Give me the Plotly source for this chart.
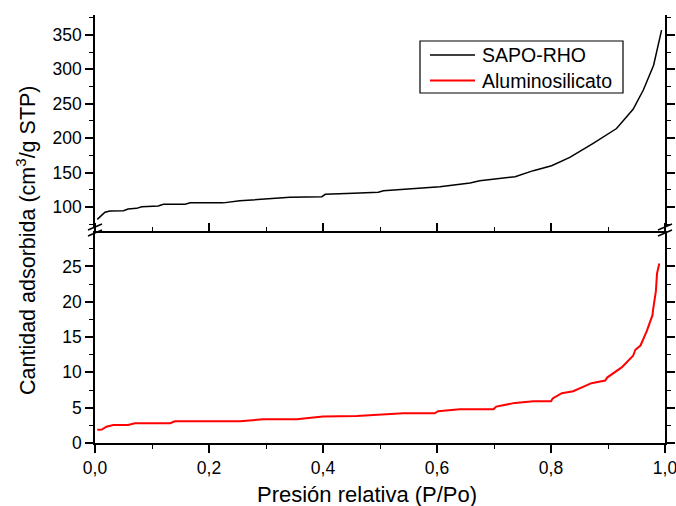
import plotly.graph_objects as go

# Relative pressure (P/Po) and adsorbed amount (cm3/g STP) for each material
sapo_p = [0.004, 0.0175, 0.026, 0.05, 0.058, 0.073, 0.082, 0.111, 0.12, 0.158, 0.167,
          0.225, 0.254, 0.325, 0.342, 0.398, 0.404, 0.453, 0.497, 0.506, 0.605, 0.658,
          0.675, 0.737, 0.769, 0.801, 0.833, 0.874, 0.915, 0.944, 0.962, 0.98, 0.988, 0.994]
sapo_q = [82, 92.3, 94.2, 94.6, 97, 98, 100.4, 101.4, 103.9, 104, 106,
          106, 109, 112.6, 114, 115, 118.4, 120, 121.4, 123.7, 129.5, 135,
          138, 144, 152.8, 160, 172, 192.5, 214, 242, 270, 306, 335, 357]

alum_p = [0.004, 0.012, 0.02, 0.032, 0.058, 0.07, 0.132, 0.14, 0.254, 0.295, 0.354,
          0.4, 0.459, 0.541, 0.596, 0.602, 0.64, 0.699, 0.704, 0.737, 0.769, 0.8,
          0.803, 0.819, 0.839, 0.871, 0.895, 0.899, 0.924, 0.944, 0.948, 0.957,
          0.968, 0.978, 0.979, 0.982, 0.984, 0.986, 0.99]
alum_q = [1.89, 1.9, 2.3, 2.56, 2.56, 2.8, 2.8, 3.07, 3.07, 3.36, 3.36,
          3.74, 3.83, 4.2, 4.2, 4.5, 4.77, 4.77, 5.16, 5.68, 5.9, 5.9,
          6.3, 7.05, 7.33, 8.47, 8.85, 9.3, 10.7, 12.35, 13.2, 13.8,
          15.85, 18.1, 18.8, 20.2, 21.5, 24.0, 25.4]

series_names = ["SAPO-RHO", "Aluminosilicato"]
series_colors = ["black", "red"]

x_ticks = [0.0, 0.2, 0.4, 0.6, 0.8, 1.0]
upper_ticks = [100, 150, 200, 250, 300, 350]
lower_ticks = [0, 5, 10, 15, 20, 25]

FONT = "Liberation Sans, Arial, sans-serif"
W, H = 676, 506
L, R, T, B = 95, 11, 15, 63
PW, PH = W - L - R, H - T - B
BREAK_LO, BREAK_HI = 233, 227  # pixel rows where the two panels end


def px_x(px):
    return (px - L) / PW


def px_y(py):
    return (H - B - py) / PH


fig = go.Figure()
fig.add_trace(go.Scatter(x=sapo_p, y=sapo_q, mode="lines", name=series_names[0],
                         line=dict(color=series_colors[0], width=1.5), xaxis="x", yaxis="y2"))
fig.add_trace(go.Scatter(x=alum_p, y=alum_q, mode="lines", name=series_names[1],
                         line=dict(color=series_colors[1], width=2), xaxis="x", yaxis="y"))

axis_common = dict(showline=True, linecolor="black", linewidth=1.5, mirror="ticks",
                   ticks="outside", ticklen=8, tickwidth=1.5, tickcolor="black",
                   showgrid=False, zeroline=False, automargin=False,
                   ticklabeloverflow="allow",
                   tickfont=dict(family=FONT, size=17.5, color="black"))

minor = dict(ticks="outside", ticklen=4, tickwidth=1.2, tickcolor="black", showgrid=False)

fig.update_layout(
    width=W, height=H,
    margin=dict(l=L, r=R, t=T, b=B, autoexpand=False),
    paper_bgcolor="white", plot_bgcolor="white",
    separators=", ",
    showlegend=False,
    xaxis=dict(range=[0, 1.0], tickvals=x_ticks, tickformat=".1f", anchor="y",
               minor=dict(dtick=0.1, **minor), **axis_common),
    yaxis=dict(domain=[0, px_y(BREAK_LO)], range=[0, (442.3 - BREAK_LO) / 7.04],
               tickvals=lower_ticks, anchor="x",
               minor=dict(dtick=2.5, **minor), **axis_common),
    yaxis2=dict(domain=[px_y(BREAK_HI), 1], range=[100 - (BREAK_HI - 207) / 0.688, 379],
                tickvals=upper_ticks, anchor="x",
                minor=dict(dtick=25, tick0=0, **minor), **axis_common),
)

# Axis titles
fig.add_annotation(text="Presión relativa (P/Po)", xref="paper", yref="paper",
                   x=px_x(367), y=px_y(495), xanchor="center", yanchor="middle",
                   showarrow=False, font=dict(family=FONT, size=22, color="black"))
fig.add_annotation(text="Cantidad adsorbida (cm<sup>3</sup>/g STP)", xref="paper", yref="paper",
                   x=px_x(26), y=px_y(240), xanchor="center", yanchor="middle",
                   textangle=-90, showarrow=False,
                   font=dict(family=FONT, size=21.5, color="black"))

# Legend box with line samples and labels
fig.add_shape(type="rect", xref="paper", yref="paper",
              x0=px_x(420), y0=px_y(93), x1=px_x(623), y1=px_y(41),
              line=dict(color="black", width=1.2), fillcolor="white")
for i, (name, color) in enumerate(zip(series_names, series_colors)):
    cy = 55 + 25.5 * i
    fig.add_shape(type="line", xref="paper", yref="paper",
                  x0=px_x(430), y0=px_y(cy), x1=px_x(475), y1=px_y(cy),
                  line=dict(color=color, width=1.5 if i == 0 else 2))
    fig.add_annotation(text=name, xref="paper", yref="paper",
                       x=px_x(480), y=px_y(cy), xanchor="left", yanchor="middle",
                       showarrow=False, font=dict(family=FONT, size=19.5, color="black"))

# Axis-break marks on both vertical axes
for ax in (95, 665):
    for cy in (BREAK_HI, BREAK_LO):
        fig.add_shape(type="line", xref="paper", yref="paper",
                      x0=px_x(ax - 7), y0=px_y(cy + 3), x1=px_x(ax + 7), y1=px_y(cy - 3),
                      line=dict(color="black", width=1.5))

fig.write_html("out.html")
